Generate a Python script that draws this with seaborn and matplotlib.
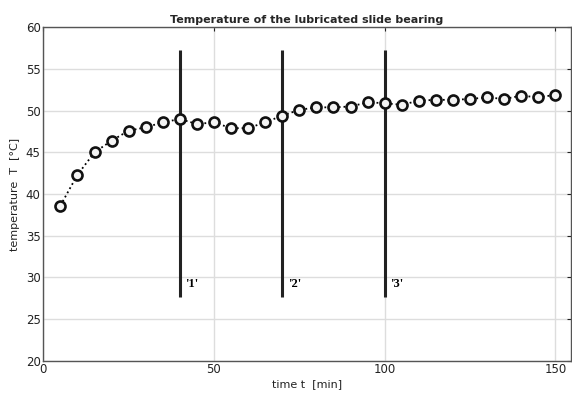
import matplotlib
matplotlib.use("Agg")
import matplotlib.pyplot as plt
import seaborn as sns
import pandas as pd

time_min = [5, 10, 15, 20, 25, 30, 35, 40, 45, 50, 55, 60, 65, 70, 75,
            80, 85, 90, 95, 100, 105, 110, 115, 120, 125, 130, 135, 140, 145, 150]
temperature = [38.6, 42.3, 45.0, 46.4, 47.6, 48.0, 48.6, 49.0, 48.4, 48.6,
               47.9, 47.9, 48.6, 49.4, 50.1, 50.4, 50.4, 50.5, 51.0, 50.9,
               50.7, 51.2, 51.3, 51.3, 51.4, 51.6, 51.4, 51.8, 51.6, 51.9]
event_times = [40, 70, 100]
event_labels = ["'1'", "'2'", "'3'"]
event_low, event_high = 27.6, 57.3
x_ticks = [0, 50, 100, 150]
y_ticks = [20, 25, 30, 35, 40, 45, 50, 55, 60]

sns.set_style("white")
plt.rcParams['font.family'] = ['DejaVu Sans']

fig = plt.figure(figsize=(5.72, 3.95), dpi=100)
ax = fig.add_axes([0.0757, 0.0868, 0.9220, 0.8440])

df = pd.DataFrame({"t": time_min, "T": temperature})
sns.lineplot(data=df, x="t", y="T", ax=ax, color="black", linestyle=":",
             linewidth=1.3, marker="o", markersize=7.2, markerfacecolor="#f4f4f4",
             markeredgecolor="#111111", markeredgewidth=1.9, zorder=5)

ax.vlines(event_times, event_low, event_high, colors="#222222", linewidth=2.2, zorder=4)
for t, lab in zip(event_times, event_labels):
    ax.text(t + 1.6, 29.2, lab, fontsize=9, fontweight="bold",
            family="Liberation Serif", va="center", ha="left", color="black")

ax.set_xlim(0, 154.5)
ax.set_ylim(20, 60)
ax.set_xticks(x_ticks)
ax.set_yticks(y_ticks)
ax.grid(True, color="#dddddd", linewidth=1.0)
ax.set_axisbelow(True)
for s in ax.spines.values():
    s.set_color("#555555")
    s.set_linewidth(1.0)
ax.tick_params(axis="both", labelsize=8.5, colors="#222222", length=3,
               direction="in", pad=2, top=True, right=True)
ax.set_xlabel("time t  [min]", fontsize=8, color="#222222", labelpad=2)
ax.set_ylabel("temperature  T  [°C]", fontsize=8, color="#222222", labelpad=4)
ax.set_title("Temperature of the lubricated slide bearing", fontsize=8,
             fontweight="bold", pad=3)

fig.savefig("out.png", dpi=100)
